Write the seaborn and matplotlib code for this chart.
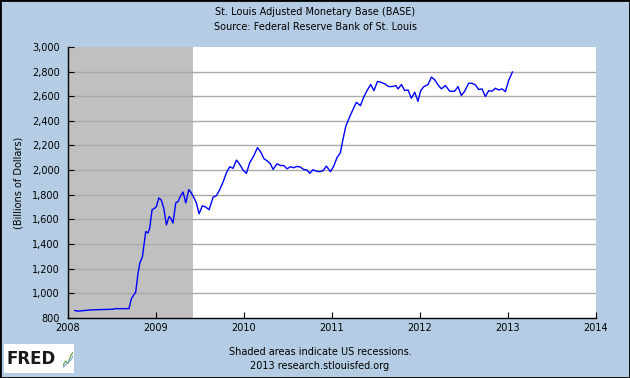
import numpy as np
import pandas as pd
import matplotlib
matplotlib.use('Agg')
import matplotlib.pyplot as plt
import seaborn as sns
from matplotlib.patches import Rectangle

# decimal year / billions of dollars
years = [2008.076, 2008.114, 2008.266, 2008.398, 2008.511, 2008.531, 2008.693, 2008.720,
         2008.769, 2008.795, 2008.815, 2008.845, 2008.883, 2008.909, 2008.928, 2008.955,
         2008.985, 2009.005, 2009.031, 2009.061, 2009.088, 2009.118, 2009.148, 2009.167,
         2009.193, 2009.224, 2009.250, 2009.277, 2009.307, 2009.338, 2009.372, 2009.402,
         2009.432, 2009.459, 2009.489, 2009.527, 2009.565, 2009.603, 2009.648, 2009.686,
         2009.724, 2009.761, 2009.800, 2009.838, 2009.875, 2009.914, 2009.951, 2009.989,
         2010.027, 2010.065, 2010.110, 2010.152, 2010.190, 2010.227, 2010.266, 2010.300,
         2010.330, 2010.375, 2010.414, 2010.451, 2010.489, 2010.527, 2010.565, 2010.602,
         2010.641, 2010.678, 2010.716, 2010.747, 2010.784, 2010.823, 2010.860, 2010.898,
         2010.936, 2010.982, 2011.019, 2011.057, 2011.095, 2011.125, 2011.156, 2011.193,
         2011.232, 2011.277, 2011.323, 2011.360, 2011.398, 2011.440, 2011.477, 2011.516,
         2011.553, 2011.599, 2011.644, 2011.686, 2011.724, 2011.750, 2011.789, 2011.826,
         2011.864, 2011.902, 2011.940, 2011.977, 2012.008, 2012.045, 2012.091, 2012.130,
         2012.167, 2012.205, 2012.243, 2012.289, 2012.338, 2012.394, 2012.432, 2012.470,
         2012.508, 2012.553, 2012.591, 2012.630, 2012.667, 2012.705, 2012.743, 2012.781,
         2012.818, 2012.857, 2012.894, 2012.932, 2012.970, 2013.008, 2013.050]
base = [860, 855, 865, 868, 870, 875, 875, 956,
        1010, 1160, 1242, 1296, 1500, 1490, 1528, 1678,
        1690, 1705, 1774, 1755, 1690, 1555, 1623, 1610,
        1570, 1733, 1745, 1787, 1822, 1733, 1841, 1814,
        1774, 1733, 1645, 1710, 1700, 1678, 1779, 1792,
        1841, 1901, 1978, 2027, 2014, 2081, 2046, 2000,
        1973, 2060, 2114, 2182, 2147, 2092, 2073, 2051,
        2005, 2051, 2037, 2037, 2010, 2027, 2019, 2030,
        2024, 2005, 2000, 1973, 2003, 1990, 1987, 1995,
        2032, 1987, 2030, 2101, 2141, 2250, 2354, 2419,
        2482, 2550, 2523, 2591, 2645, 2694, 2645, 2719,
        2713, 2700, 2678, 2678, 2686, 2659, 2694, 2645,
        2650, 2583, 2632, 2558, 2645, 2678, 2694, 2755,
        2733, 2691, 2659, 2686, 2640, 2640, 2678, 2605,
        2640, 2705, 2705, 2691, 2654, 2659, 2597, 2645,
        2640, 2664, 2650, 2659, 2637, 2727, 2796]

recession = (2007.92, 2009.42)
x_ticks = [2008, 2009, 2010, 2011, 2012, 2013, 2014]
y_ticks = list(range(800, 3001, 200))

df = pd.DataFrame({'year': years, 'BASE': base})

bg = '#b4cde4'
fig = plt.figure(figsize=(6.3, 3.78), dpi=100, facecolor=bg)
ax = fig.add_axes([0.108, 0.159, 0.838, 0.717])
ax.set_facecolor('white')

ax.axvspan(recession[0], recession[1], color='#c0c0c0', lw=0, zorder=0)
for v in y_ticks[1:-1]:
    ax.axhline(v, color='#a9a9a9', lw=1, zorder=1)

sns.lineplot(data=df, x='year', y='BASE', ax=ax, color='#0000ff', lw=1, zorder=3)

ax.set_xlim(2008, 2014)
ax.set_ylim(800, 3000)
ax.set_xticks(x_ticks)
ax.set_xticklabels([str(t) for t in x_ticks], fontsize=7)
ax.set_yticks(y_ticks)
ax.set_yticklabels([f'{t:,}' for t in y_ticks], fontsize=7)
ax.tick_params(axis='x', direction='in', length=4, pad=4, color='black')
ax.tick_params(axis='y', direction='in', length=4, pad=6, color='black')
ax.set_xlabel('')
ax.set_ylabel('(Billions of Dollars)', fontsize=7, labelpad=6)
for s in ['top', 'right']:
    ax.spines[s].set_visible(False)
for s in ['left', 'bottom']:
    ax.spines[s].set_color('black')
    ax.spines[s].set_linewidth(1)

fig.text(0.5, 0.968, 'St. Louis Adjusted Monetary Base (BASE)', ha='center', va='center', fontsize=7)
fig.text(0.5, 0.928, 'Source: Federal Reserve Bank of St. Louis', ha='center', va='center', fontsize=7)
fig.text(0.508, 0.068, 'Shaded areas indicate US recessions.', ha='center', va='center', fontsize=7)
fig.text(0.508, 0.033, '2013 research.stlouisfed.org', ha='center', va='center', fontsize=7)

# FRED logo box
fig.patches.append(Rectangle((0.006, 0.013), 0.112, 0.077, transform=fig.transFigure,
                             facecolor='white', edgecolor='none', zorder=0))
fig.text(0.010, 0.050, 'FRED', ha='left', va='center', fontsize=12, fontweight='heavy',
         color='#1a1a1a', zorder=2)
icon = fig.add_axes([0.100, 0.025, 0.016, 0.05])
icon.set_zorder(5)
icon.patch.set_alpha(0)
icon.plot([0, 1, 2, 3, 4], [0.5, 1.2, 0.8, 2.0, 2.6], color='#5a9a3a', lw=0.8)
icon.plot([0, 1, 2, 3, 4], [0.2, 0.6, 1.0, 1.3, 2.0], color='#7aa0c8', lw=0.8)
icon.set_xlim(0, 4)
icon.set_ylim(0, 3)
icon.axis('off')

fig.patches.append(Rectangle((0, 0), 1, 1, transform=fig.transFigure, fill=False,
                             edgecolor='black', lw=2))

fig.savefig('out.png', dpi=100, facecolor=bg)
